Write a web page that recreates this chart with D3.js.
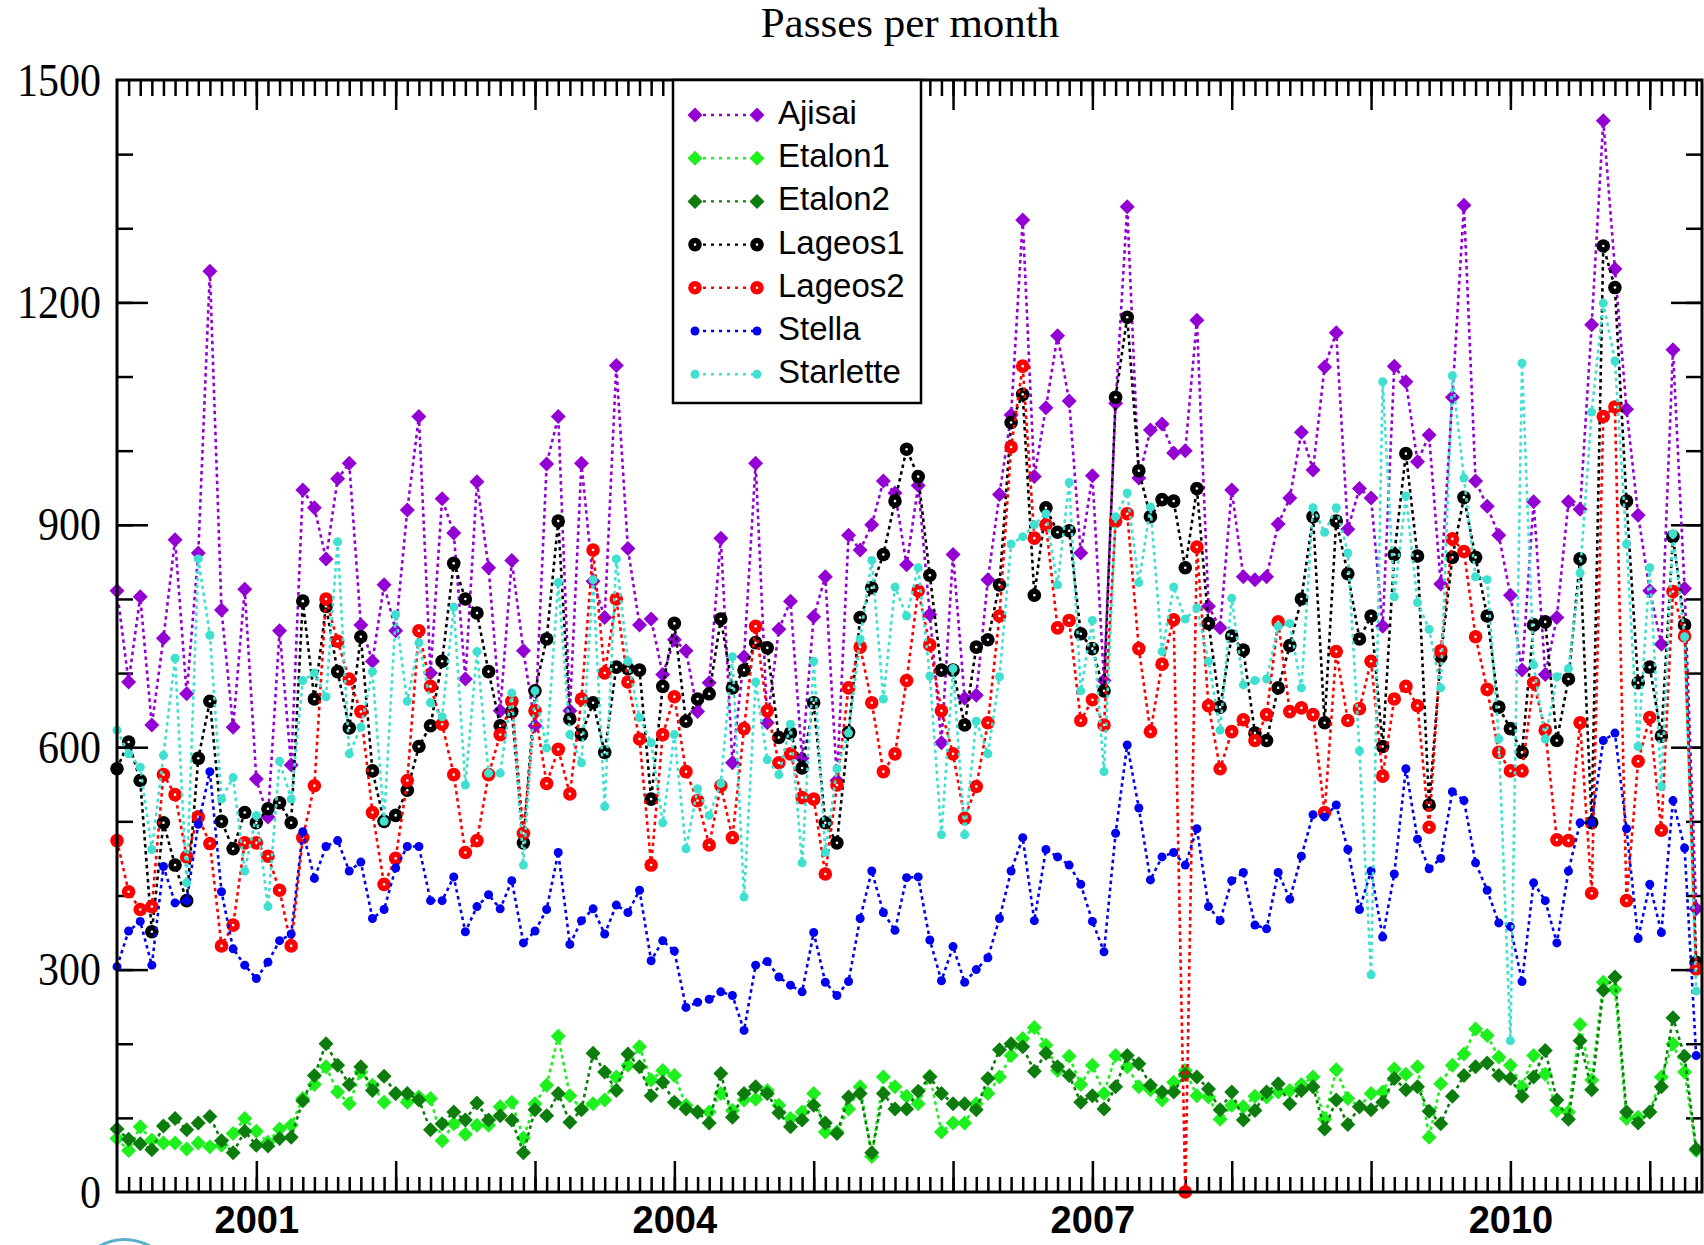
<!DOCTYPE html>
<html>
<head>
<meta charset="utf-8">
<style>
  body { margin: 0; background: #fff; }
  svg { display: block; }
  .tick line { stroke: #000; stroke-width: 2.5; }
</style>
</head>
<body>
<svg width="1704" height="1245"></svg>
<script src="https://d3js.org/d3.v7.min.js"></script>
<script>

// one value per month, month 0 = Jan 2000
var ajisai = [
  811, 688, 803, 630, 747, 880, 672, 862, 1242, 785,
  627, 813, 557, 506, 757, 576, 947, 923, 854, 962,
  983, 765, 716, 819, 757, 920, 1046, 700, 935, 889,
  692, 958, 842, 649, 852, 730, 629, 982, 1046, 649,
  983, 824, 775, 1115, 868, 765, 773, 698, 745, 730,
  648, 687, 882, 579, 722, 983, 633, 759, 797, 585,
  776, 830, 555, 886, 866, 900, 959, 943, 846, 953,
  779, 606, 860, 666, 670, 826, 941, 1048, 1311, 965,
  1058, 1155, 1067, 862, 966, 690, 1064, 1329, 963, 1028,
  1036, 997, 1000, 1176, 790, 761, 947, 830, 826, 830,
  901, 936, 1025, 974, 1113, 1159, 894, 949, 936, 763,
  1114, 1093, 985, 1021, 820, 1072, 1331, 959, 925, 886,
  805, 704, 931, 698, 775, 931, 921, 1170, 1445, 1245,
  1056, 913, 811, 739, 1136, 814, 382
];

var etalon1 = [
  72, 56, 88, 70, 66, 66, 58, 66, 61, 63,
  79, 99, 82, 67, 85, 90, 126, 145, 169, 135,
  119, 162, 144, 121, 133, 121, 128, 126, 69, 92,
  78, 90, 90, 115, 121, 73, 119, 144, 210, 130,
  112, 119, 124, 155, 171, 196, 151, 164, 157, 117,
  108, 108, 133, 110, 124, 125, 137, 117, 99, 108,
  133, 81, 81, 112, 142, 48, 155, 142, 129, 119,
  156, 81, 93, 93, 119, 133, 155, 184, 207, 222,
  198, 164, 183, 145, 171, 133, 184, 169, 142, 138,
  124, 148, 164, 130, 128, 98, 117, 115, 129, 128,
  135, 137, 145, 155, 98, 165, 126, 115, 133, 135,
  166, 159, 169, 74, 146, 171, 186, 220, 211, 182,
  171, 142, 184, 159, 110, 108, 226, 151, 283, 273,
  99, 101, 108, 155, 200, 162, 56
];

var etalon2 = [
  85, 71, 65, 57, 89, 99, 84, 93, 102, 69,
  53, 82, 63, 62, 72, 74, 123, 157, 200, 171,
  145, 169, 137, 156, 133, 133, 124, 84, 92, 108,
  97, 120, 97, 103, 97, 53, 111, 103, 133, 94,
  111, 187, 162, 137, 186, 169, 130, 148, 121, 112,
  108, 93, 160, 101, 133, 142, 133, 107, 88, 97,
  117, 93, 79, 128, 133, 53, 133, 112, 112, 136,
  155, 133, 119, 119, 111, 153, 192, 200, 196, 163,
  187, 169, 157, 121, 130, 112, 142, 184, 173, 144,
  135, 135, 159, 155, 139, 111, 135, 97, 110, 135,
  146, 119, 137, 142, 85, 124, 91, 115, 111, 121,
  153, 138, 142, 109, 92, 129, 157, 169, 174, 157,
  153, 129, 155, 191, 124, 98, 204, 138, 272, 290,
  108, 93, 108, 142, 235, 183, 58
];

var lageos1 = [
  571, 607, 555, 351, 498, 441, 393, 585, 662, 500,
  463, 512, 498, 517, 525, 498, 797, 665, 790, 702,
  626, 749, 568, 500, 508, 542, 601, 629, 716, 848,
  800, 781, 702, 629, 648, 471, 676, 746, 905, 638,
  617, 660, 593, 708, 706, 704, 530, 682, 767, 635,
  665, 672, 773, 680, 704, 741, 734, 613, 619, 572,
  660, 498, 471, 620, 775, 815, 860, 932, 1002, 965,
  832, 704, 704, 630, 735, 745, 819, 1038, 1076, 805,
  923, 890, 892, 753, 733, 676, 1072, 1180, 973, 911,
  934, 932, 842, 949, 767, 654, 750, 731, 619, 609,
  680, 737, 800, 911, 633, 905, 834, 746, 777, 601,
  860, 996, 858, 522, 722, 856, 937, 856, 777, 654,
  625, 593, 765, 769, 609, 692, 854, 498, 1276, 1220,
  932, 687, 708, 615, 884, 765, 310
];

var lageos2 = [
  474, 405, 381, 385, 563, 536, 452, 506, 470, 332,
  360, 471, 471, 453, 407, 332, 478, 548, 800, 743,
  692, 648, 512, 415, 450, 555, 757, 682, 631, 563,
  458, 474, 563, 617, 662, 484, 649, 551, 597, 537,
  665, 866, 700, 800, 688, 611, 441, 617, 668, 567,
  528, 468, 548, 478, 625, 763, 649, 579, 591, 532,
  530, 429, 549, 680, 735, 660, 567, 591, 690, 811,
  738, 649, 591, 504, 547, 633, 777, 1005, 1114, 882,
  900, 761, 771, 636, 664, 630, 905, 915, 733, 621,
  712, 772, 0, 870, 656, 571, 621, 637, 609, 644,
  769, 648, 653, 644, 512, 729, 636, 652, 716, 561,
  665, 682, 656, 492, 730, 881, 864, 749, 678, 593,
  568, 568, 687, 623, 475, 474, 633, 403, 1046, 1059,
  393, 581, 640, 488, 810, 750, 301
];

var stella = [
  304, 352, 365, 306, 439, 390, 393, 496, 567, 405,
  328, 306, 288, 310, 339, 348, 486, 423, 466, 474,
  433, 445, 369, 381, 437, 466, 466, 393, 393, 425,
  351, 385, 401, 382, 420, 336, 352, 381, 458, 334,
  366, 382, 348, 387, 377, 407, 312, 339, 325, 249,
  256, 260, 270, 265, 218, 306, 311, 290, 279, 270,
  350, 283, 265, 284, 369, 433, 377, 353, 424, 425,
  340, 285, 331, 283, 300, 316, 369, 433, 478, 366,
  462, 452, 441, 415, 365, 324, 484, 603, 518, 421,
  452, 458, 441, 490, 385, 366, 420, 431, 360, 355,
  431, 395, 453, 509, 506, 522, 462, 381, 433, 344,
  429, 571, 476, 436, 450, 540, 528, 444, 407, 363,
  358, 284, 417, 393, 336, 433, 498, 498, 609, 619,
  490, 342, 415, 350, 528, 464, 184
];

var starlette = [
  623, 591, 573, 462, 589, 720, 417, 854, 751, 530,
  559, 433, 508, 385, 581, 530, 690, 700, 668, 877,
  591, 627, 702, 500, 779, 662, 741, 660, 641, 789,
  549, 729, 565, 565, 673, 441, 676, 599, 822, 617,
  579, 826, 520, 854, 716, 640, 606, 498, 617, 463,
  544, 508, 551, 722, 398, 688, 583, 563, 631, 444,
  716, 458, 571, 619, 746, 852, 665, 816, 777, 842,
  696, 482, 706, 482, 635, 591, 695, 874, 884, 900,
  915, 819, 957, 676, 771, 567, 911, 943, 822, 924,
  729, 816, 773, 788, 716, 623, 801, 684, 690, 692,
  763, 767, 680, 923, 890, 923, 862, 595, 293, 1093,
  803, 939, 795, 759, 680, 1101, 963, 830, 826, 611,
  204, 1118, 711, 611, 695, 706, 835, 1052, 1199, 1121,
  874, 601, 842, 547, 888, 749, 271
];

var names = ["Ajisai", "Etalon1", "Etalon2", "Lageos1", "Lageos2", "Stella", "Starlette"];
var colors = ["#9400d3", "#1ef01e", "#0c7d0c", "#000000", "#ff0000", "#0000f0", "#40e0d0"];
var shapes = ["diamond", "diamond", "diamond", "ring", "ring", "dot", "dot"];
var yearTicks = [12, 48, 84, 120];          // months where the year labels sit
var yearLabels = ["2001", "2004", "2007", "2010"];
var yTicks = [0, 300, 600, 900, 1200, 1500];

var series = [ajisai, etalon1, etalon2, lageos1, lageos2, stella, starlette].map(function(v, i) {
  return {id: names[i], values: v, color: colors[i], shape: shapes[i]};
});

var svg = d3.select("svg"),
  margin = {top: 80, right: 2, bottom: 53, left: 117},
  width = +svg.attr("width") - margin.left - margin.right,
  height = +svg.attr("height") - margin.top - margin.bottom,
  g = svg.append("g").attr("transform", "translate(" + margin.left + "," + margin.top + ")");

var x = d3.scaleLinear().domain([0, 136.5]).range([0, width]),
  y = d3.scaleLinear().domain([0, 1500]).range([height, 0]);

var minorX = d3.range(1, 137), majorX = d3.range(12, 137, 12);
var minorY = d3.range(100, 1500, 100), majorY = d3.range(300, 1500, 300);

function noDomain(s) { s.select(".domain").remove(); }

// inward ticks on all four sides
g.append("g").attr("transform", "translate(0," + height + ")")
  .call(d3.axisBottom(x).tickValues(minorX).tickSize(-15).tickFormat("")).call(noDomain);
g.append("g").attr("transform", "translate(0," + height + ")")
  .call(d3.axisBottom(x).tickValues(majorX).tickSize(-31).tickFormat("")).call(noDomain);
g.append("g")
  .call(d3.axisTop(x).tickValues(minorX).tickSize(-16).tickFormat("")).call(noDomain);
g.append("g")
  .call(d3.axisTop(x).tickValues(majorX).tickSize(-30).tickFormat("")).call(noDomain);
g.append("g")
  .call(d3.axisLeft(y).tickValues(minorY).tickSize(-16).tickFormat("")).call(noDomain);
g.append("g")
  .call(d3.axisLeft(y).tickValues(majorY).tickSize(-31).tickFormat("")).call(noDomain);
g.append("g").attr("transform", "translate(" + width + ",0)")
  .call(d3.axisRight(y).tickValues(minorY).tickSize(-16).tickFormat("")).call(noDomain);
g.append("g").attr("transform", "translate(" + width + ",0)")
  .call(d3.axisRight(y).tickValues(majorY).tickSize(-31).tickFormat("")).call(noDomain);

// labels
var yLab = g.append("g")
  .call(d3.axisLeft(y).tickValues(yTicks).tickSize(0).tickPadding(16).tickFormat(d3.format("d")))
  .call(noDomain);
yLab.selectAll("text")
  .attr("transform", "scale(1,1.13)")
  .style("font-family", "'Liberation Serif', 'Times New Roman', serif")
  .style("font-size", "42px").attr("fill", "#000");

var xLab = g.append("g").attr("transform", "translate(0," + height + ")")
  .call(d3.axisBottom(x).tickValues(yearTicks).tickSize(0).tickPadding(14)
    .tickFormat(function(d, i) { return yearLabels[i]; })).call(noDomain);
xLab.selectAll("text")
  .style("font-family", "'Liberation Sans', Arial, sans-serif")
  .style("font-weight", "bold").style("font-size", "38px").attr("fill", "#000");

svg.append("text")
  .attr("x", 910).attr("y", 37)
  .attr("text-anchor", "middle")
  .style("font-family", "'Liberation Serif', 'Times New Roman', serif")
  .style("font-size", "43px")
  .text("Passes per month");

var line = d3.line()
  .x(function(d, i) { return x(i); })
  .y(function(d) { return y(d); });

function diamond(r) { return "M0," + (-r) + "L" + r + ",0L0," + r + "L" + (-r) + ",0Z"; }

function drawMarker(sel, s) {
  if (s.shape == "diamond") {
    sel.append("path").attr("d", diamond(7.5)).attr("fill", s.color);
  } else if (s.shape == "ring") {
    sel.append("circle").attr("r", 6.8).attr("fill", s.color);
    sel.append("circle").attr("r", 1.3).attr("fill", "#fff");
  } else {
    sel.append("circle").attr("r", 4.5).attr("fill", s.color);
  }
}

var plot = g.append("g");

series.forEach(function(s) {
  var sg = plot.append("g").attr("class", "series " + s.id);
  sg.append("path")
    .attr("d", line(s.values))
    .attr("fill", "none")
    .attr("stroke", s.color)
    .attr("stroke-width", 2.6)
    .attr("stroke-dasharray", "3.5,3.5");
  sg.selectAll(".pt")
    .data(s.values)
    .enter().append("g")
    .attr("class", "pt")
    .attr("transform", function(d, i) { return "translate(" + x(i) + "," + y(d) + ")"; })
    .each(function() { drawMarker(d3.select(this), s); });
});

// frame
g.append("rect")
  .attr("width", width).attr("height", height)
  .attr("fill", "none").attr("stroke", "#000").attr("stroke-width", 3);

// legend
var legend = svg.append("g").attr("transform", "translate(673,80)");
legend.append("rect")
  .attr("width", 248).attr("height", 323)
  .attr("fill", "#fff").attr("stroke", "#000").attr("stroke-width", 2.5);

series.forEach(function(s, i) {
  var row = legend.append("g").attr("transform", "translate(0," + (35 + i * 43.2) + ")");
  row.append("line")
    .attr("x1", 22).attr("x2", 84)
    .attr("stroke", s.color).attr("stroke-width", 2.4)
    .attr("stroke-dasharray", "3,5");
  drawMarker(row.append("g").attr("transform", "translate(22,0)"), s);
  drawMarker(row.append("g").attr("transform", "translate(84,0)"), s);
  row.append("text")
    .attr("x", 105).attr("y", 9)
    .style("font-family", "'Liberation Sans', Arial, sans-serif")
    .style("font-size", "33px")
    .text(s.id);
});

// bit of a logo cut off at the bottom edge
svg.append("path")
  .attr("d", "M96,1248 Q122,1232 150,1246")
  .attr("fill", "none").attr("stroke", "#5ab0c8").attr("stroke-width", 3);

</script>
</body>
</html>
